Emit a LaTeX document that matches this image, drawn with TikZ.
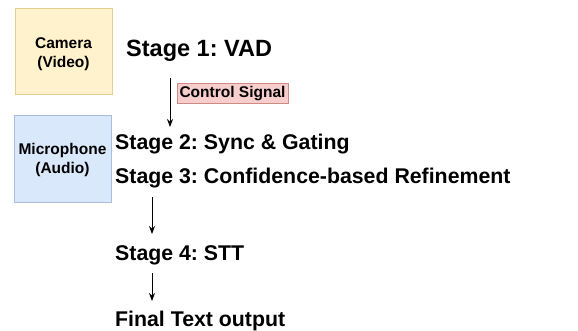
\documentclass[tikz,border=0pt]{standalone}
\usepackage{fontspec}
\setmainfont{Liberation Sans}
\usetikzlibrary{arrows.meta}
\frenchspacing

\definecolor{camfill}{HTML}{FFF2CC}
\definecolor{camline}{HTML}{E3CF8E}
\definecolor{micfill}{HTML}{DAE8FC}
\definecolor{micline}{HTML}{A9BEDD}
\definecolor{sigfill}{HTML}{F8CECC}
\definecolor{sigline}{HTML}{D08A86}

\tikzset{
  srcbox/.style={draw, line width=1pt, minimum width=97pt, minimum height=86pt},
  boxtext/.style={align=center, inner sep=0pt, font=\fontsize{15.5}{19}\selectfont\bfseries},
  stagetext/.style={anchor=west, inner sep=0pt, font=\fontsize{21.3}{25}\selectfont\bfseries},
  sigtag/.style={draw=sigline, fill=sigfill, line width=0.8pt, inner sep=2.5pt, font=\fontsize{15.5}{18}\selectfont\bfseries},
  flow/.style={-{Stealth[length=8pt,width=6pt]}, line width=0.8pt}
}

\begin{document}
\begin{tikzpicture}[x=1pt,y=-1pt]
\useasboundingbox (0,0) rectangle (578,330);
% sources
\node [srcbox, draw=camline, fill=camfill] (cam) at (63.5,51.5) {};
\node [boxtext] (camtxt) at ([yshift=-3pt]cam.center) {Camera\\(Video)};
\node [srcbox, draw=micline, fill=micfill, minimum height=87pt] (mic) at (62.5,158.5) {};
\node [boxtext] (mictxt) at ([yshift=-1.5pt]mic.center) {Microphone\\(Audio)};
% stages
\node [stagetext, font=\fontsize{23.5}{27}\selectfont\bfseries] (s1) at (126,51) {Stage 1: VAD};
\node [stagetext] (s2) at (115,144) {Stage 2: Sync \& Gating};
\node [stagetext] (s3) at (115,178) {Stage 3: Confidence-based Refinement};
\node [stagetext] (s4) at (115,255) {Stage 4: STT};
\node [stagetext] (out) at (115,321) {Final Text output};
\coordinate (a1s) at (170,78);
\coordinate (a1e) at (170,127);
\coordinate (a2s) at (152,197);
\coordinate (a2e) at (152,234);
\coordinate (a3s) at (152,273);
\coordinate (a3e) at (152,301);
\draw [flow] (a1s) -- (a1e);
\draw [flow] (a2s) -- (a2e);
\draw [flow] (a3s) -- (a3e);
\node [sigtag] (sig) at (232.5,93.5) {Control Signal};
\end{tikzpicture}
\end{document}
